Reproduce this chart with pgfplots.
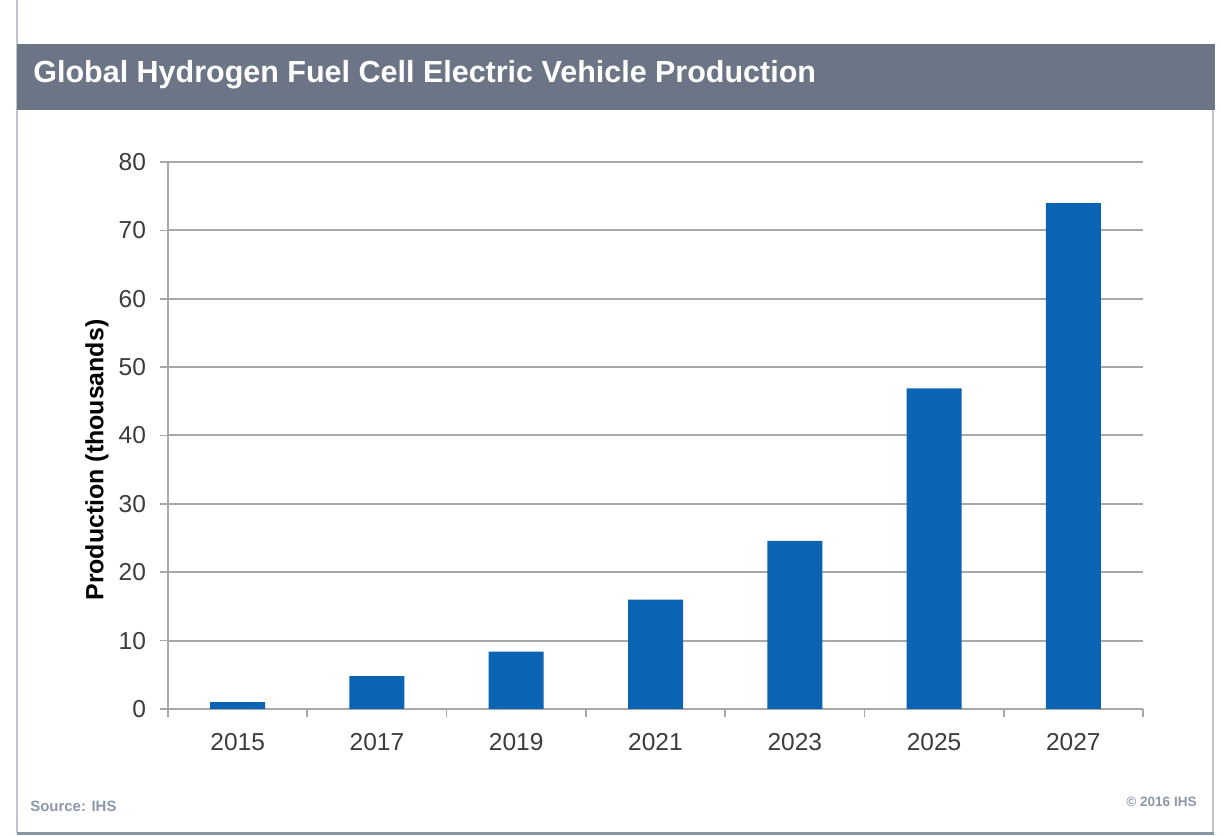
\documentclass[border=0pt]{standalone}
\usepackage{fontspec}
\setmainfont{Liberation Sans}
\usepackage{pgfplots}
\pgfplotsset{compat=1.18}
\definecolor{barblue}{HTML}{0A63B3}
\definecolor{hdrgray}{HTML}{6B7585}
\definecolor{gridgray}{HTML}{A8A8A8}
\definecolor{footgray}{HTML}{8C97AA}
\definecolor{framegray}{HTML}{C0C5CD}
\definecolor{framedark}{HTML}{8A95A5}
\definecolor{ticktext}{HTML}{3C3C3C}
\begin{document}
\begin{tikzpicture}
\useasboundingbox (0,0) rectangle (611bp,418bp);
\fill[white] (0,0) rectangle (611bp,418bp);
% frame
\draw[framegray, line width=0.8bp] (8.5bp,418bp) -- (8.5bp,1.5bp);
\draw[framegray, line width=0.8bp] (606.5bp,363bp) -- (606.5bp,1.5bp);
\draw[framedark, line width=1.5bp] (8.5bp,1.5bp) -- (607bp,1.5bp);
\fill[hdrgray] (8.5bp,363bp) rectangle (607.5bp,396bp);
\node[anchor=west, text=white, inner sep=0pt, font=\bfseries\fontsize{15.3}{17}\selectfont] at (16.5bp,380.5bp) {Global Hydrogen Fuel Cell Electric Vehicle Production};
\node[anchor=west, text=footgray, inner sep=0pt, font=\bfseries\fontsize{7.5}{9}\selectfont] at (15bp,15bp) {Source: IHS};
\node[anchor=east, text=footgray, inner sep=0pt, font=\bfseries\fontsize{6.8}{8}\selectfont] at (598.5bp,17bp) {© 2016 IHS};
\begin{axis}[
  scale only axis,
  width=487.5bp, height=273.5bp,
  at={(84bp,63.5bp)}, anchor=south west,
  xmin=-0.5, xmax=6.5, ymin=0, ymax=80,
  ytick={0,10,...,80},
  xtick={0,...,6},
  xticklabels={2015,2017,2019,2021,2023,2025,2027},
  minor xtick={-0.5,0.5,...,6.5},
  major x tick style={draw=none},
  axis lines*=left,
  ymajorgrids,
  grid style={gridgray, line width=1bp},
  axis line style={gridgray, line width=1bp},
  tick style={gridgray, line width=0.8bp},
  tick align=outside,
  major tick length=4bp, minor tick length=4bp,
  tick label style={font=\fontsize{12.3}{14}\selectfont, text=ticktext},
  xticklabel style={yshift=-4.5bp},
  yticklabel style={xshift=-3.5bp},
  /pgf/number format/assume math mode=true,
  ylabel={Production (thousands)},
  ylabel style={font=\bfseries\fontsize{12.5}{14}\selectfont, at={(axis description cs:-0.073,0.455)}, anchor=center},
]
\addplot[ybar, bar width=27.5bp, fill=barblue, draw=none] table {
x y
0 1.0
1 4.8
2 8.4
3 16.0
4 24.6
5 46.9
6 74.0
};
\end{axis}
\end{tikzpicture}
\end{document}
